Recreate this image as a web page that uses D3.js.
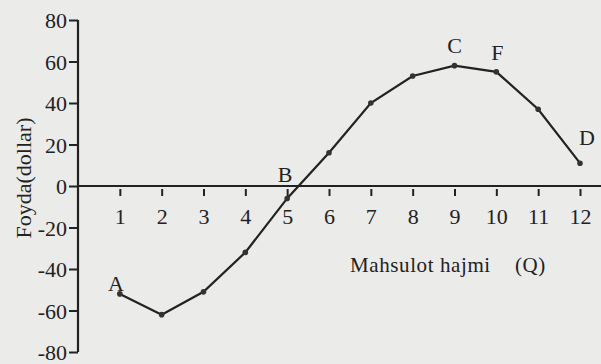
<!DOCTYPE html>
<html>
<head>
<meta charset="utf-8">
<script src="https://cdn.jsdelivr.net/npm/d3@7"></script>
<style>
  body { margin: 0; background: #ebebea; }
  svg { display: block; }
  text { font-family: "Liberation Serif", "Times New Roman", serif; fill: #222; }
</style>
</head>
<body>
<div id="chart"></div>
<script>
// data
var quantity = [1, 2, 3, 4, 5, 6, 7, 8, 9, 10, 11, 12];
var profit   = [-52, -62, -51, -32, -6, 16, 40, 53, 58, 55, 37, 11];
var yTicks   = [-80, -60, -40, -20, 0, 20, 40, 60, 80];
var pointLabels = [
  {q: 1,  name: "A", dx: -4, dy: -3},
  {q: 5,  name: "B", dx: -2, dy: -16},
  {q: 9,  name: "C", dx: 0,  dy: -13},
  {q: 10, name: "F", dx: 1,  dy: -12},
  {q: 12, name: "D", dx: 7,  dy: -18}
];

var width = 601, height = 364;
var serif = '"Liberation Serif", "Times New Roman", serif';

var svg = d3.select("#chart")
  .append("svg")
  .attr("width", width)
  .attr("height", height);

var x = d3.scaleLinear().domain([0, 12]).range([78, 580]);
var y = d3.scaleLinear().domain([-80, 80]).range([352, 20]);

// Y axis
var yAxis = svg.append("g")
  .attr("transform", "translate(" + x(0) + ",0)")
  .call(d3.axisLeft(y).tickValues(yTicks).tickSize(9).tickPadding(2)
    .tickFormat(function(d) { return String(d); }));
yAxis.attr("font-family", serif);
yAxis.select(".domain").attr("stroke", "#222").attr("stroke-width", 2.2)
  .attr("d", "M0," + y(80) + "V" + y(-80));
yAxis.selectAll(".tick line").attr("stroke", "#222").attr("stroke-width", 2);
yAxis.selectAll(".tick text").style("font-size", "22px").style("font-family", serif)
  .attr("dy", "0.35em");

// X axis
var xAxis = svg.append("g")
  .attr("transform", "translate(0," + y(0) + ")")
  .call(d3.axisBottom(x).tickValues(quantity).tickSize(0).tickPadding(22));
xAxis.attr("font-family", serif);
xAxis.select(".domain").remove();
xAxis.selectAll(".tick text").style("font-size", "22px").style("font-family", serif);
xAxis.selectAll(".tick").append("line")
  .attr("y1", 3).attr("y2", 10)
  .attr("stroke", "#222").attr("stroke-width", 2);
svg.append("line")
  .attr("x1", x(0)).attr("x2", width)
  .attr("y1", y(0)).attr("y2", y(0))
  .attr("stroke", "#222").attr("stroke-width", 2.2);

// profit curve
var line = d3.line()
  .x(function(d, i) { return x(quantity[i]); })
  .y(function(d) { return y(d); });

svg.append("path")
  .datum(profit)
  .attr("fill", "none")
  .attr("stroke", "#222")
  .attr("stroke-width", 2.2)
  .attr("d", line);

svg.selectAll(".pt")
  .data(profit)
  .enter()
  .append("circle")
  .attr("cx", function(d, i) { return x(quantity[i]); })
  .attr("cy", function(d) { return y(d); })
  .attr("r", 2.8)
  .attr("fill", "#333");

svg.selectAll(".lbl")
  .data(pointLabels)
  .enter()
  .append("text")
  .attr("x", function(d) { return x(d.q) + d.dx; })
  .attr("y", function(d) { return y(profit[d.q - 1]) + d.dy; })
  .attr("text-anchor", "middle")
  .style("font-size", "22px")
  .text(function(d) { return d.name; });

// axis titles
var xTitle = svg.append("text")
  .attr("x", 350)
  .attr("y", 272)
  .style("font-size", "21px")
  .style("letter-spacing", "0.6px");
xTitle.append("tspan").text("Mahsulot hajmi");
xTitle.append("tspan").attr("x", 515).text("(Q)");

svg.append("text")
  .attr("transform", "translate(31,178) rotate(-90)")
  .attr("text-anchor", "middle")
  .style("font-size", "22px")
  .text("Foyda(dollar)");
</script>
</body>
</html>
